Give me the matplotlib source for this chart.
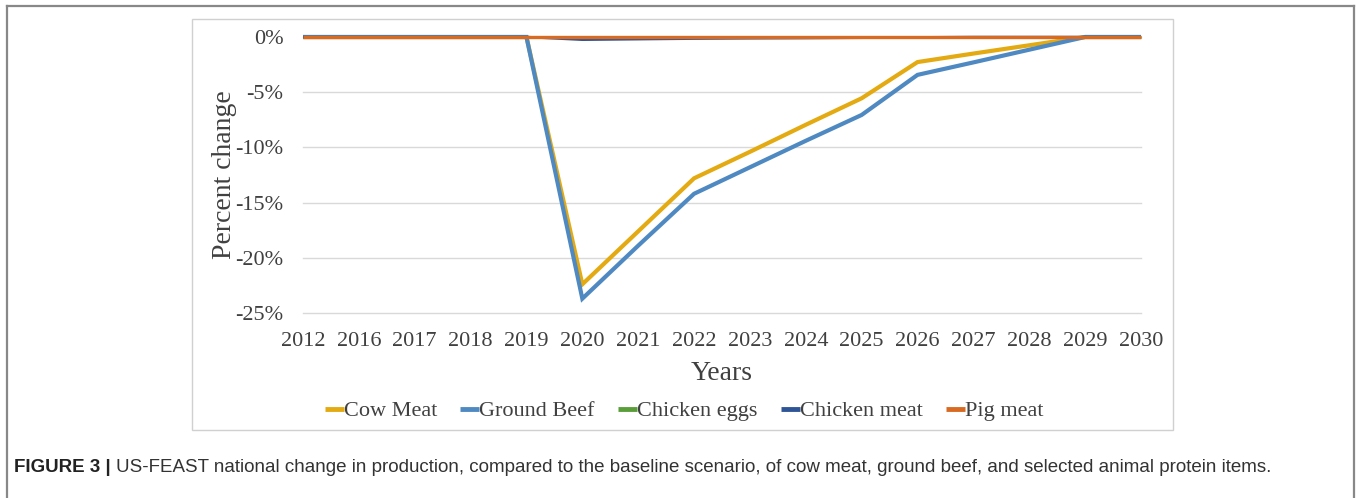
import matplotlib
matplotlib.use("Agg")
import matplotlib.pyplot as plt
from matplotlib.patches import Rectangle
from matplotlib.lines import Line2D
from matplotlib.ticker import FuncFormatter

years = ["2012", "2016", "2017", "2018", "2019", "2020", "2021", "2022",
         "2023", "2024", "2025", "2026", "2027", "2028", "2029", "2030"]
cow_meat = [0, 0, 0, 0, 0, -22.4, -17.6, -12.8, -10.4, -7.95, -5.55, -2.27, -1.5, -0.75, 0, 0]
ground_beef = [0, 0, 0, 0, 0, -23.7, -18.9, -14.2, -11.8, -9.4, -7.06, -3.43, -2.3, -1.15, 0, 0]
chicken_eggs = [0] * 16
chicken_meat = [0, 0, 0, 0, 0, -0.25, -0.2, -0.15, -0.12, -0.1, -0.07, -0.03, 0, 0, 0, 0]
pig_meat = [0] * 16

series = [("Cow Meat", cow_meat, "#E3AA12", 3.0),
          ("Ground Beef", ground_beef, "#4F89C2", 3.0),
          ("Chicken eggs", chicken_eggs, "#5A9E3A", 1.8),
          ("Chicken meat", chicken_meat, "#2F5597", 1.8),
          ("Pig meat", pig_meat, "#D86A22", 2.4)]

W, H = 1357, 498
fig = plt.figure(figsize=(W / 100, H / 100), dpi=100)
serif = ["Liberation Serif", "DejaVu Serif"]
txt = "#404040"

# frame around whole figure (top, left, right only)
for xs, ys in [([7, 1354], [6, 6]), ([7, 7], [6, H]), ([1354, 1354], [6, H])]:
    fig.add_artist(Line2D([x / W for x in xs], [1 - y / H for y in ys],
                          color="#888888", lw=1.6))
# chart box
fig.add_artist(Rectangle((192 / W, 1 - 430 / H), (1173 - 192) / W, (430 - 19) / H,
                         fill=False, edgecolor="#d0d0d0", lw=1))

ax = fig.add_axes([303 / W, 1 - 313 / H, (1141 - 303) / W, 276 / H])
x = list(range(len(years)))
for name, vals, col, lw in series:
    ax.plot(x, vals, color=col, lw=lw, label=name, clip_on=False,
            solid_capstyle="butt", solid_joinstyle="miter")

ax.set_xlim(0, len(years) - 1)
ax.set_ylim(-25, 0)
ax.set_yticks([0, -5, -10, -15, -20, -25])
ax.yaxis.set_major_formatter(FuncFormatter(lambda v, p: f"{v:.0f}%"))
ax.set_xticks(x)
ax.set_xticklabels(years)
ax.grid(axis="y", color="#d9d9d9", lw=1)
for gl in ax.get_ygridlines():
    gl.set_clip_on(False)
ax.set_axisbelow(True)
for s in ax.spines.values():
    s.set_visible(False)
ax.tick_params(length=0, labelsize=16, colors=txt)
ax.tick_params(axis="y", pad=14)
ax.tick_params(axis="x", pad=14)
for lab in ax.get_xticklabels() + ax.get_yticklabels():
    lab.set_family(serif)

ax.set_xlabel("Years", fontsize=20, color=txt, family=serif, labelpad=7)
ax.set_ylabel("Percent change", fontsize=20, color=txt, family=serif, labelpad=-1)

handles, labels = ax.get_legend_handles_labels()
leg = fig.legend(handles, labels, loc="center", ncol=5,
                 bbox_to_anchor=(684 / W, 1 - 411 / H), frameon=False,
                 prop={"family": serif, "size": 16}, handlelength=0.85,
                 handletextpad=0.0, columnspacing=1.05)
for t in leg.get_texts():
    t.set_color(txt)
for h in leg.legend_handles:
    h.set_linewidth(3.5)

# caption
cy = 1 - 467 / H
t1 = fig.text(14 / W, cy, "FIGURE 3 |", fontsize=13.5, weight="bold",
              family="Liberation Sans", color="#222222", va="center")
fig.canvas.draw()
bb = t1.get_window_extent(fig.canvas.get_renderer())
fig.text((bb.x1 + 5) / W, cy,
         "US-FEAST national change in production, compared to the baseline scenario, "
         "of cow meat, ground beef, and selected animal protein items.",
         fontsize=13.5, family="Liberation Sans", color="#333333", va="center")

fig.savefig("out.png", dpi=100)
